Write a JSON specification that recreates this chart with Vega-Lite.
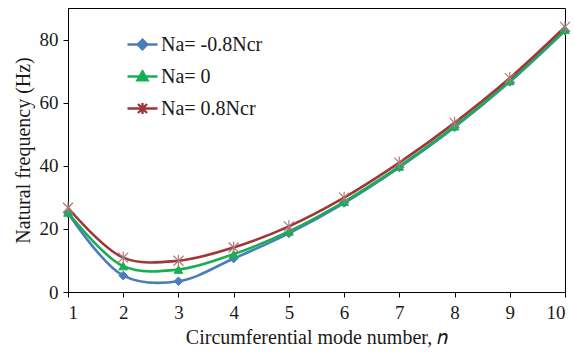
{
  "$schema": "https://vega.github.io/schema/vega-lite/v6.json",
  "width": 497,
  "height": 284,
  "autosize": {"type": "none"},
  "padding": {"left": 68, "top": 8, "right": 9, "bottom": 62},
  "background": "white",
  "config": {
    "view": {"stroke": "#000", "strokeWidth": 1},
    "font": "Liberation Serif",
    "axis": {"grid": false, "domainColor": "#000", "tickColor": "#000", "labelColor": "#1a1a1a", "titleColor": "#1a1a1a", "labelFont": "Liberation Serif", "titleFont": "Liberation Serif", "labelFontSize": 19, "titleFontSize": 20, "titleFontWeight": "normal", "tickSize": 5}
  },
  "data": {"values": [
    {"series": "Na= -0.8Ncr", "n": 1, "f": 25.0},
    {"series": "Na= -0.8Ncr", "n": 2, "f": 5.2},
    {"series": "Na= -0.8Ncr", "n": 3, "f": 3.4},
    {"series": "Na= -0.8Ncr", "n": 4, "f": 10.6},
    {"series": "Na= -0.8Ncr", "n": 5, "f": 18.6},
    {"series": "Na= -0.8Ncr", "n": 6, "f": 28.2},
    {"series": "Na= -0.8Ncr", "n": 7, "f": 39.5},
    {"series": "Na= -0.8Ncr", "n": 8, "f": 52.2},
    {"series": "Na= -0.8Ncr", "n": 9, "f": 66.6},
    {"series": "Na= -0.8Ncr", "n": 10, "f": 82.8},
    {"series": "Na= 0", "n": 1, "f": 25.2},
    {"series": "Na= 0", "n": 2, "f": 8.2},
    {"series": "Na= 0", "n": 3, "f": 7.1},
    {"series": "Na= 0", "n": 4, "f": 12.0},
    {"series": "Na= 0", "n": 5, "f": 19.2},
    {"series": "Na= 0", "n": 6, "f": 28.6},
    {"series": "Na= 0", "n": 7, "f": 39.8},
    {"series": "Na= 0", "n": 8, "f": 52.5},
    {"series": "Na= 0", "n": 9, "f": 66.9},
    {"series": "Na= 0", "n": 10, "f": 83.1},
    {"series": "Na= 0.8Ncr", "n": 1, "f": 26.7},
    {"series": "Na= 0.8Ncr", "n": 2, "f": 10.9},
    {"series": "Na= 0.8Ncr", "n": 3, "f": 9.9},
    {"series": "Na= 0.8Ncr", "n": 4, "f": 14.1},
    {"series": "Na= 0.8Ncr", "n": 5, "f": 20.8},
    {"series": "Na= 0.8Ncr", "n": 6, "f": 29.9},
    {"series": "Na= 0.8Ncr", "n": 7, "f": 41.0},
    {"series": "Na= 0.8Ncr", "n": 8, "f": 53.6},
    {"series": "Na= 0.8Ncr", "n": 9, "f": 67.8},
    {"series": "Na= 0.8Ncr", "n": 10, "f": 84.0}
  ]},
  "encoding": {
    "x": {"field": "n", "type": "quantitative", "scale": {"domain": [1, 10], "nice": false}, "axis": {"values": [1,2,3,4,5,6,7,8,9,10], "title": "Circumferential  mode number, 𝑛", "labelPadding": 6, "titlePadding": 5}},
    "y": {"field": "f", "type": "quantitative", "scale": {"domain": [0, 90], "nice": false}, "axis": {"values": [0,20,40,60,80], "title": "Natural  frequency (Hz)", "labelPadding": 5, "titlePadding": 6}},
    "color": {"field": "series", "type": "nominal", "scale": {"domain": ["Na= -0.8Ncr", "Na= 0", "Na= 0.8Ncr"], "range": ["#4A7EBB", "#16B050", "#A0353A"]},
      "legend": {
        "orient": "none", "legendX": 58, "legendY": 20, "title": null,
        "labelFont": "Liberation Serif", "labelFontSize": 20, "labelColor": "#1a1a1a", "labelOffset": 2,
        "symbolSize": 900, "rowPadding": 5,
        "encode": {"symbols": {"update": {
          "shape": {"signal": "datum.value === 'Na= -0.8Ncr' ? 'M-1,0L1,0M0,-0.32L0.32,0L0,0.32L-0.32,0Z' : datum.value === 'Na= 0' ? 'M-1,0L1,0M0,-0.34L0.34,0.26L-0.34,0.26Z' : 'M-1,0L1,0M-0.3,-0.3L0.3,0.3M-0.3,0.3L0.3,-0.3M0,-0.36L0,0.36'"},
          "fill": {"signal": "scale('color', datum.value)"},
          "stroke": {"signal": "scale('color', datum.value)"},
          "strokeWidth": {"value": 2.4},
          "opacity": {"value": 1}
        }}}
      }}
  },
  "layer": [
    {
      "mark": {"type": "line", "interpolate": "catmull-rom", "strokeWidth": 2.6}
    },
    {
      "transform": [{"filter": "datum.series === 'Na= -0.8Ncr'"}],
      "mark": {"type": "point", "filled": true, "opacity": 1, "size": 75, "shape": "diamond", "stroke": "#4A7EBB", "strokeWidth": 1}
    },
    {
      "transform": [{"filter": "datum.series === 'Na= 0'"}],
      "mark": {"type": "point", "filled": true, "opacity": 1, "size": 75, "shape": "triangle-up", "stroke": "#16B050", "strokeWidth": 1}
    },
    {
      "transform": [{"filter": "datum.series === 'Na= 0.8Ncr'"}],
      "mark": {"type": "point", "filled": true, "opacity": 1, "size": 100, "shape": "M-1,-1L1,1M-1,1L1,-1M0,-1.2L0,1.2", "stroke": "#B07878", "strokeWidth": 1.2}
    }
  ]
}
